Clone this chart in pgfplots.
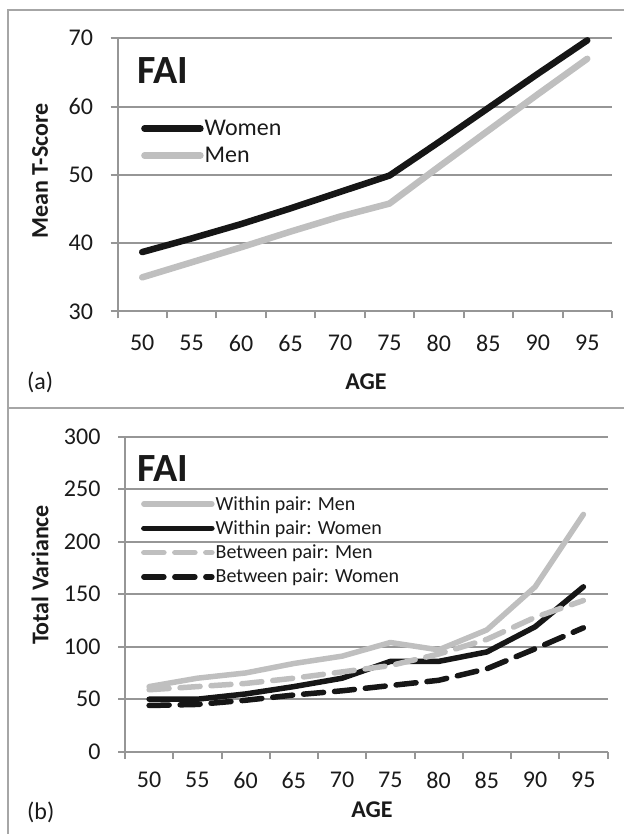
\documentclass[border=0pt]{standalone}
\usepackage{pgfplots}
\pgfplotsset{compat=1.18}
\usepackage{fontspec}
\setmainfont{Carlito}
\definecolor{lgray}{HTML}{BFBFBF}
\definecolor{dblack}{HTML}{161616}
\definecolor{gridc}{HTML}{969696}
\definecolor{framec}{HTML}{A6A6A6}
\definecolor{txt}{HTML}{1A1A1A}
\newcommand{\tf}{\fontsize{24}{28}\selectfont}
\newcommand{\lf}{\fontsize{20}{24}\selectfont}
\pgfplotsset{
  excelaxis/.style={
    scale only axis, anchor=south west,
    xmin=-0.5, xmax=9.5,
    axis x line*=bottom, axis y line*=left,
    axis line style={-, gridc, line width=2pt},
    xtick={-0.5,0.5,...,9.5},
    xticklabels={50,55,60,65,70,75,80,85,90,95,{}},
    tick align=outside, major tick length=7pt,
    tick style={gridc, line width=2pt},
    ymajorgrids, grid style={gridc, line width=2pt},
    /pgf/number format/assume math mode=true,
    ticklabel style={font=\tf, text=txt},
    yticklabel style={xshift=-14pt},
    clip=false,
    legend cell align=left,
  }
}
\begin{document}
\begin{tikzpicture}[x=1pt,y=1pt]
\useasboundingbox (0,0) rectangle (624,834);
\draw[framec, line width=2pt] (624,824) -- (8,824) -- (8,0);
\draw[framec, line width=2pt] (8,426) -- (624,426);

% ---------- panel (a)
\begin{axis}[excelaxis,
  at={(117.5pt,522.5pt)}, width=494.5pt, height=273.2pt,
  ymin=30, ymax=70, ytick={30,40,...,70},
  xticklabel style={xshift=24.7pt, yshift=-13pt},
  legend style={at={(0.0475,0.705)}, anchor=north west, draw=none, fill=none,
    font=\tf, row sep=8pt, inner sep=0pt, nodes={inner sep=1pt, text=txt}},
  legend image code/.code={\draw[#1] (0pt,0pt) -- (56pt,0pt);},
]
\addplot[dblack, line width=6.5pt, line cap=round, line join=round] coordinates {
 (0,38.7) (1,40.7) (2,42.8) (3,45.1) (4,47.5) (5,49.9) (6,54.8) (7,59.8) (8,64.8) (9,69.7)};
\addlegendentry{Women}
\addplot[lgray, line width=6.5pt, line cap=round, line join=round] coordinates {
 (0,35.0) (1,37.2) (2,39.4) (3,41.7) (4,43.9) (5,45.8) (6,51.2) (7,56.5) (8,61.8) (9,67.0)};
\addlegendentry{Men}
\end{axis}
\node[anchor=west, inner sep=0pt, text=txt, font=\fontsize{40}{40}\selectfont\bfseries] at (137,763) {FAI};
\node[rotate=90, text=txt, font=\tf\bfseries] at (40,663) {Mean T-Score};
\node[text=txt, font=\tf\bfseries] at (366,452) {AGE};
\node[anchor=west, inner sep=0pt, text=txt, font=\tf] at (27,452) {(a)};

% ---------- panel (b)
\begin{axis}[excelaxis,
  at={(125pt,82.3pt)}, width=482.5pt, height=315pt,
  ymin=0, ymax=300, ytick={0,50,...,300},
  xticklabel style={xshift=24.1pt, yshift=-10pt},
  legend style={at={(0.033,0.815)}, anchor=north west, draw=none, fill=none,
    font=\lf, row sep=7pt, inner sep=0pt, nodes={inner sep=1pt, text=txt}},
  legend image code/.code={\draw[#1] (0pt,0pt) -- (68pt,0pt);},
]
\addplot[lgray, line width=5.5pt, line cap=round, line join=round] coordinates {
 (0,62) (1,70) (2,75) (3,84) (4,91) (5,104) (6,97) (7,116) (8,157) (9,226)};
\addlegendentry{Within pair: Men}
\addplot[dblack, line width=5.5pt, line cap=round, line join=round] coordinates {
 (0,50) (1,50) (2,55) (3,62) (4,70) (5,86) (6,86) (7,95) (8,119) (9,157)};
\addlegendentry{Within pair: Women}
\addplot[lgray, line width=5.5pt, line cap=round, line join=round, dash pattern=on 20pt off 11pt] coordinates {
 (0,59) (1,62) (2,65) (3,70) (4,76) (5,82) (6,93) (7,107) (8,128) (9,144)};
\addlegendentry{Between pair: Men}
\addplot[dblack, line width=5.5pt, line cap=round, line join=round, dash pattern=on 20pt off 11pt] coordinates {
 (0,44) (1,45) (2,49) (3,54) (4,58) (5,63) (6,68) (7,79) (8,98) (9,118)};
\addlegendentry{Between pair: Women}
\end{axis}
\node[anchor=west, inner sep=0pt, text=txt, font=\fontsize{40}{40}\selectfont\bfseries] at (137,365) {FAI};
\node[rotate=90, text=txt, font=\tf\bfseries] at (40,259) {Total Variance};
\node[text=txt, font=\tf\bfseries] at (372,24) {AGE};
\node[anchor=west, inner sep=0pt, text=txt, font=\tf] at (27,22) {(b)};
\end{tikzpicture}
\end{document}
